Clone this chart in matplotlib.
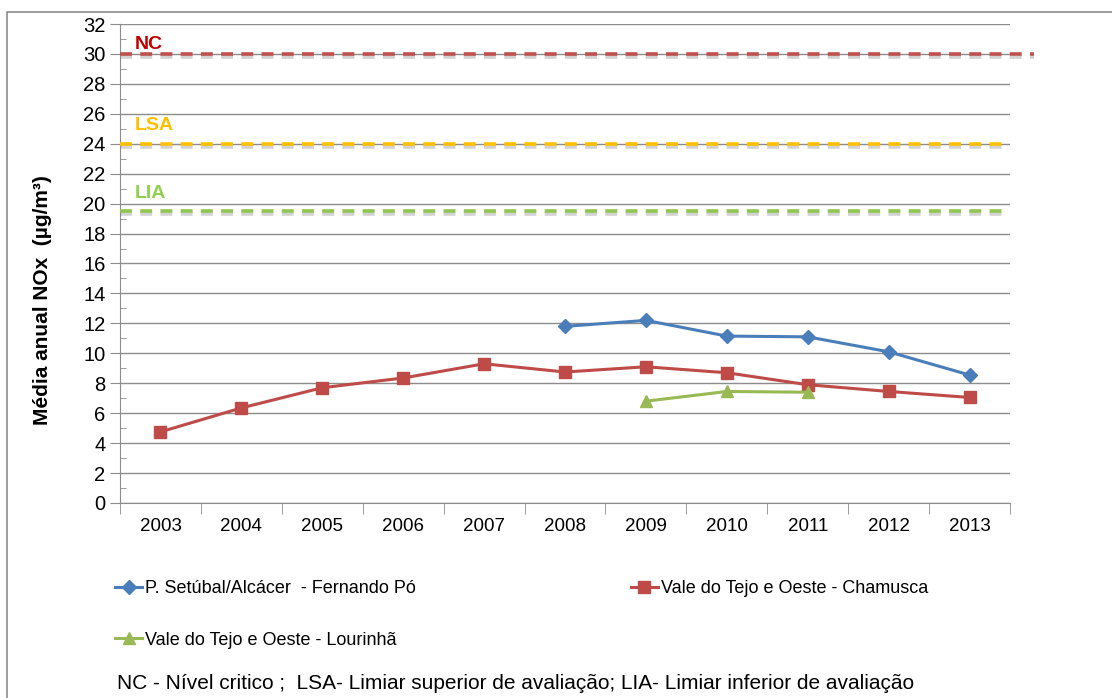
import matplotlib
matplotlib.use("Agg")
import matplotlib.pyplot as plt
import matplotlib.patheffects as pe
from matplotlib.patches import Rectangle
from matplotlib.ticker import MultipleLocator, FixedLocator

plt.rcParams['font.family'] = ['Liberation Sans', 'DejaVu Sans']

# Annual NOx means per station
years = ['2003', '2004', '2005', '2006', '2007', '2008', '2009', '2010', '2011', '2012', '2013']
setubal_years = ['2008', '2009', '2010', '2011', '2012', '2013']
setubal = [11.8, 12.2, 11.15, 11.1, 10.1, 8.55]
chamusca = [4.75, 6.35, 7.7, 8.35, 9.3, 8.75, 9.1, 8.7, 7.9, 7.45, 7.05]
lourinha_years = ['2009', '2010', '2011']
lourinha = [6.8, 7.45, 7.4]

# Reference limits
nc_limit = 30
lsa_limit = 24
lia_limit = 19.5

fig = plt.figure(figsize=(11.12, 6.98), dpi=100)
ax = fig.add_axes([0.1079, 0.2794, 0.8004, 0.6862])

# outer frame of the chart area
fig.patches.append(Rectangle((0.0063, -0.01), 1.0, 0.993, transform=fig.transFigure,
                             fill=False, edgecolor='#8c8c8c', linewidth=1.2))

xi = {y: i for i, y in enumerate(years)}
shadow = [pe.SimpleLineShadow(offset=(0, -2), shadow_color='#808080', alpha=0.35), pe.Normal()]

ax.plot([-0.5, 10.8], [nc_limit] * 2, color='#c0504d', lw=2.6, dashes=(3.3, 2.3),
        clip_on=False, path_effects=shadow, zorder=3)
ax.plot([-0.5, 10.45], [lsa_limit] * 2, color='#ffc000', lw=2.6, dashes=(3.3, 2.3),
        path_effects=shadow, zorder=3)
ax.plot([-0.5, 10.45], [lia_limit] * 2, color='#8fc550', lw=2.6, dashes=(3.3, 2.3),
        path_effects=shadow, zorder=3)

ax.text(-0.32, 30.66, 'NC', color='#c00000', fontsize=14, fontweight='bold', va='center')
ax.text(-0.32, 25.25, 'LSA', color='#ffc000', fontsize=14, fontweight='bold', va='center')
ax.text(-0.32, 20.7, 'LIA', color='#92d050', fontsize=14, fontweight='bold', va='center')

l1, = ax.plot([xi[y] for y in setubal_years], setubal, color='#4a7ebb', lw=2.2,
              marker='D', markersize=7, label='P. Setúbal/Alcácer  - Fernando Pó', zorder=4)
l2, = ax.plot(range(len(years)), chamusca, color='#be4b48', lw=2.2,
              marker='s', markersize=9, label='Vale do Tejo e Oeste - Chamusca', zorder=4)
l3, = ax.plot([xi[y] for y in lourinha_years], lourinha, color='#98b954', lw=2.2,
              marker='^', markersize=9, label='Vale do Tejo e Oeste - Lourinhã', zorder=4)

ax.set_xlim(-0.5, 10.5)
ax.set_ylim(0, 32)
ax.set_xticks(range(len(years)))
ax.set_xticklabels(years, fontsize=13.5)
ax.xaxis.set_minor_locator(FixedLocator([i - 0.5 for i in range(len(years) + 1)]))
ax.tick_params(axis='x', which='major', length=0, pad=11)
ax.tick_params(axis='x', which='minor', length=8, color='#8c8c8c')
ax.yaxis.set_major_locator(MultipleLocator(2))
ax.yaxis.set_minor_locator(MultipleLocator(1))
ax.tick_params(axis='y', which='major', labelsize=14.5, length=7, color='#8c8c8c')
ax.tick_params(axis='y', which='minor', length=4, direction='in', color='#8c8c8c')
ax.grid(axis='y', color='#8c8c8c', lw=1)
ax.set_axisbelow(True)
for side in ('top', 'right'):
    ax.spines[side].set_visible(False)
for side in ('left', 'bottom'):
    ax.spines[side].set_color('#8c8c8c')

ax.set_ylabel('Média anual NOx  (µg/m³)', fontsize=15, fontweight='bold')
ax.yaxis.set_label_coords(-0.0765, 0.424)

fig.legend(handles=[l1, l3, l2], ncol=2, loc='upper left', bbox_to_anchor=(0.089, 0.192),
           frameon=False, fontsize=13, handlelength=1.5, handletextpad=0.15,
           labelspacing=1.9, columnspacing=11.9)

fig.text(0.105, 0.021, 'NC - Nível critico ;  LSA- Limiar superior de avaliação; '
         'LIA- Limiar inferior de avaliação', fontsize=15, va='center')

fig.savefig('out.png', dpi=100)
